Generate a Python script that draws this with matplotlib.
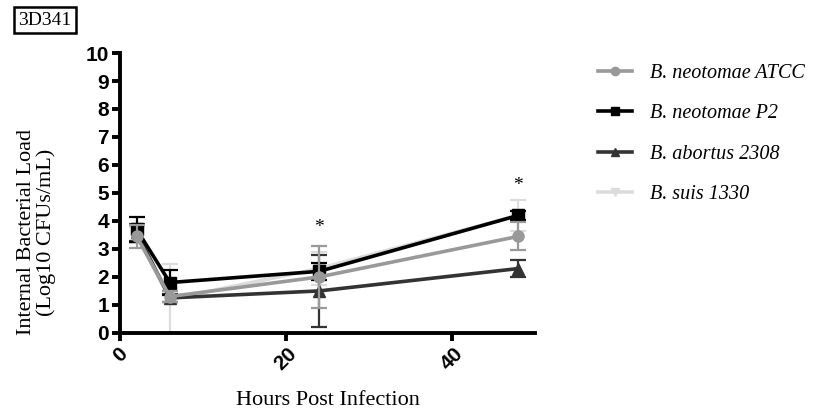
import matplotlib
matplotlib.use('Agg')
import matplotlib.pyplot as plt
from matplotlib.lines import Line2D

hours = [2, 6, 24, 48]

atcc = [3.45, 1.3, 2.0, 3.45]
atcc_err = [0.4, 0.2, 1.1, 0.5]
p2 = [3.7, 1.8, 2.2, 4.2]
p2_err = [0.45, 0.45, 0.3, 0.15]
abortus = [3.6, 1.25, 1.5, 2.3]
abortus_err = [0.3, 0.15, 1.3, 0.3]
suis = [3.5, 1.2, 2.3, 4.2]
suis_err = [0.3, 1.25, 0.6, 0.55]

star_x = [24, 48]
star_y = [3.45, 4.95]

fig = plt.figure(figsize=[8.25, 4.11], dpi=100, facecolor='w')
ax = fig.add_axes([0.1455, 0.19, 0.503, 0.681])

serif = 'Liberation Serif'
lw = 2.6
series = [
    (suis, suis_err, '#dcdcdc', 'v', 'B. suis 1330'),
    (abortus, abortus_err, '#333333', '^', 'B. abortus 2308'),
    (p2, p2_err, '#000000', 's', 'B. neotomae P2'),
    (atcc, atcc_err, '#999999', 'o', 'B. neotomae ATCC'),
]
handles = []
for z, (vals, err, col, mk, lab) in enumerate(series):
    ax.errorbar(hours, vals, yerr=err, color=col, marker=mk, markersize=8, linewidth=lw,
                elinewidth=1.6, capsize=6, capthick=1.6, zorder=2 + z)
    handles.append(Line2D([], [], color=col, marker=mk, markersize=6, linewidth=lw, label=lab))

for x, y in zip(star_x, star_y):
    ax.text(x, y, '*', ha='center', va='bottom', fontsize=14, family=serif)

ax.set_xlim(0, 50)
ax.set_ylim(0, 10)
ax.set_xticks([0, 20, 40])
ax.set_yticks(range(0, 11))
for s in ['top', 'right']:
    ax.spines[s].set_visible(False)
for s in ['left', 'bottom']:
    ax.spines[s].set_linewidth(2.8)
ax.tick_params(width=2.8, length=6, pad=2)
for lab in ax.get_yticklabels():
    lab.set_fontweight('bold')
    lab.set_fontsize(15)
    lab.set_family('Liberation Sans')
for lab in ax.get_xticklabels():
    lab.set_fontweight('bold')
    lab.set_fontsize(15)
    lab.set_family('Liberation Sans')
    lab.set_rotation(45)
    lab.set_ha('center')
    lab.set_va('top')

ax.set_xlabel('Hours Post Infection', family=serif, fontsize=16, labelpad=12)
ax.set_ylabel('Internal Bacterial Load\n(Log10 CFUs/mL)', family=serif, fontsize=16,
              linespacing=1.0)
ax.yaxis.set_label_coords(-0.155, 0.36)

handles = handles[::-1]
ax.legend(handles=handles, loc='upper left', bbox_to_anchor=(1.108, 1.025), frameon=False,
          handlelength=1.7, labelspacing=1.05, handletextpad=0.9,
          prop={'family': serif, 'style': 'italic', 'size': 14.5})

fig.text(0.022, 0.951, '3D341', family=serif, fontsize=14, va='center', ha='left',
         bbox=dict(boxstyle='square,pad=0.22', facecolor='w', edgecolor='k', linewidth=1.8))

plt.savefig('out.png', dpi=100)
